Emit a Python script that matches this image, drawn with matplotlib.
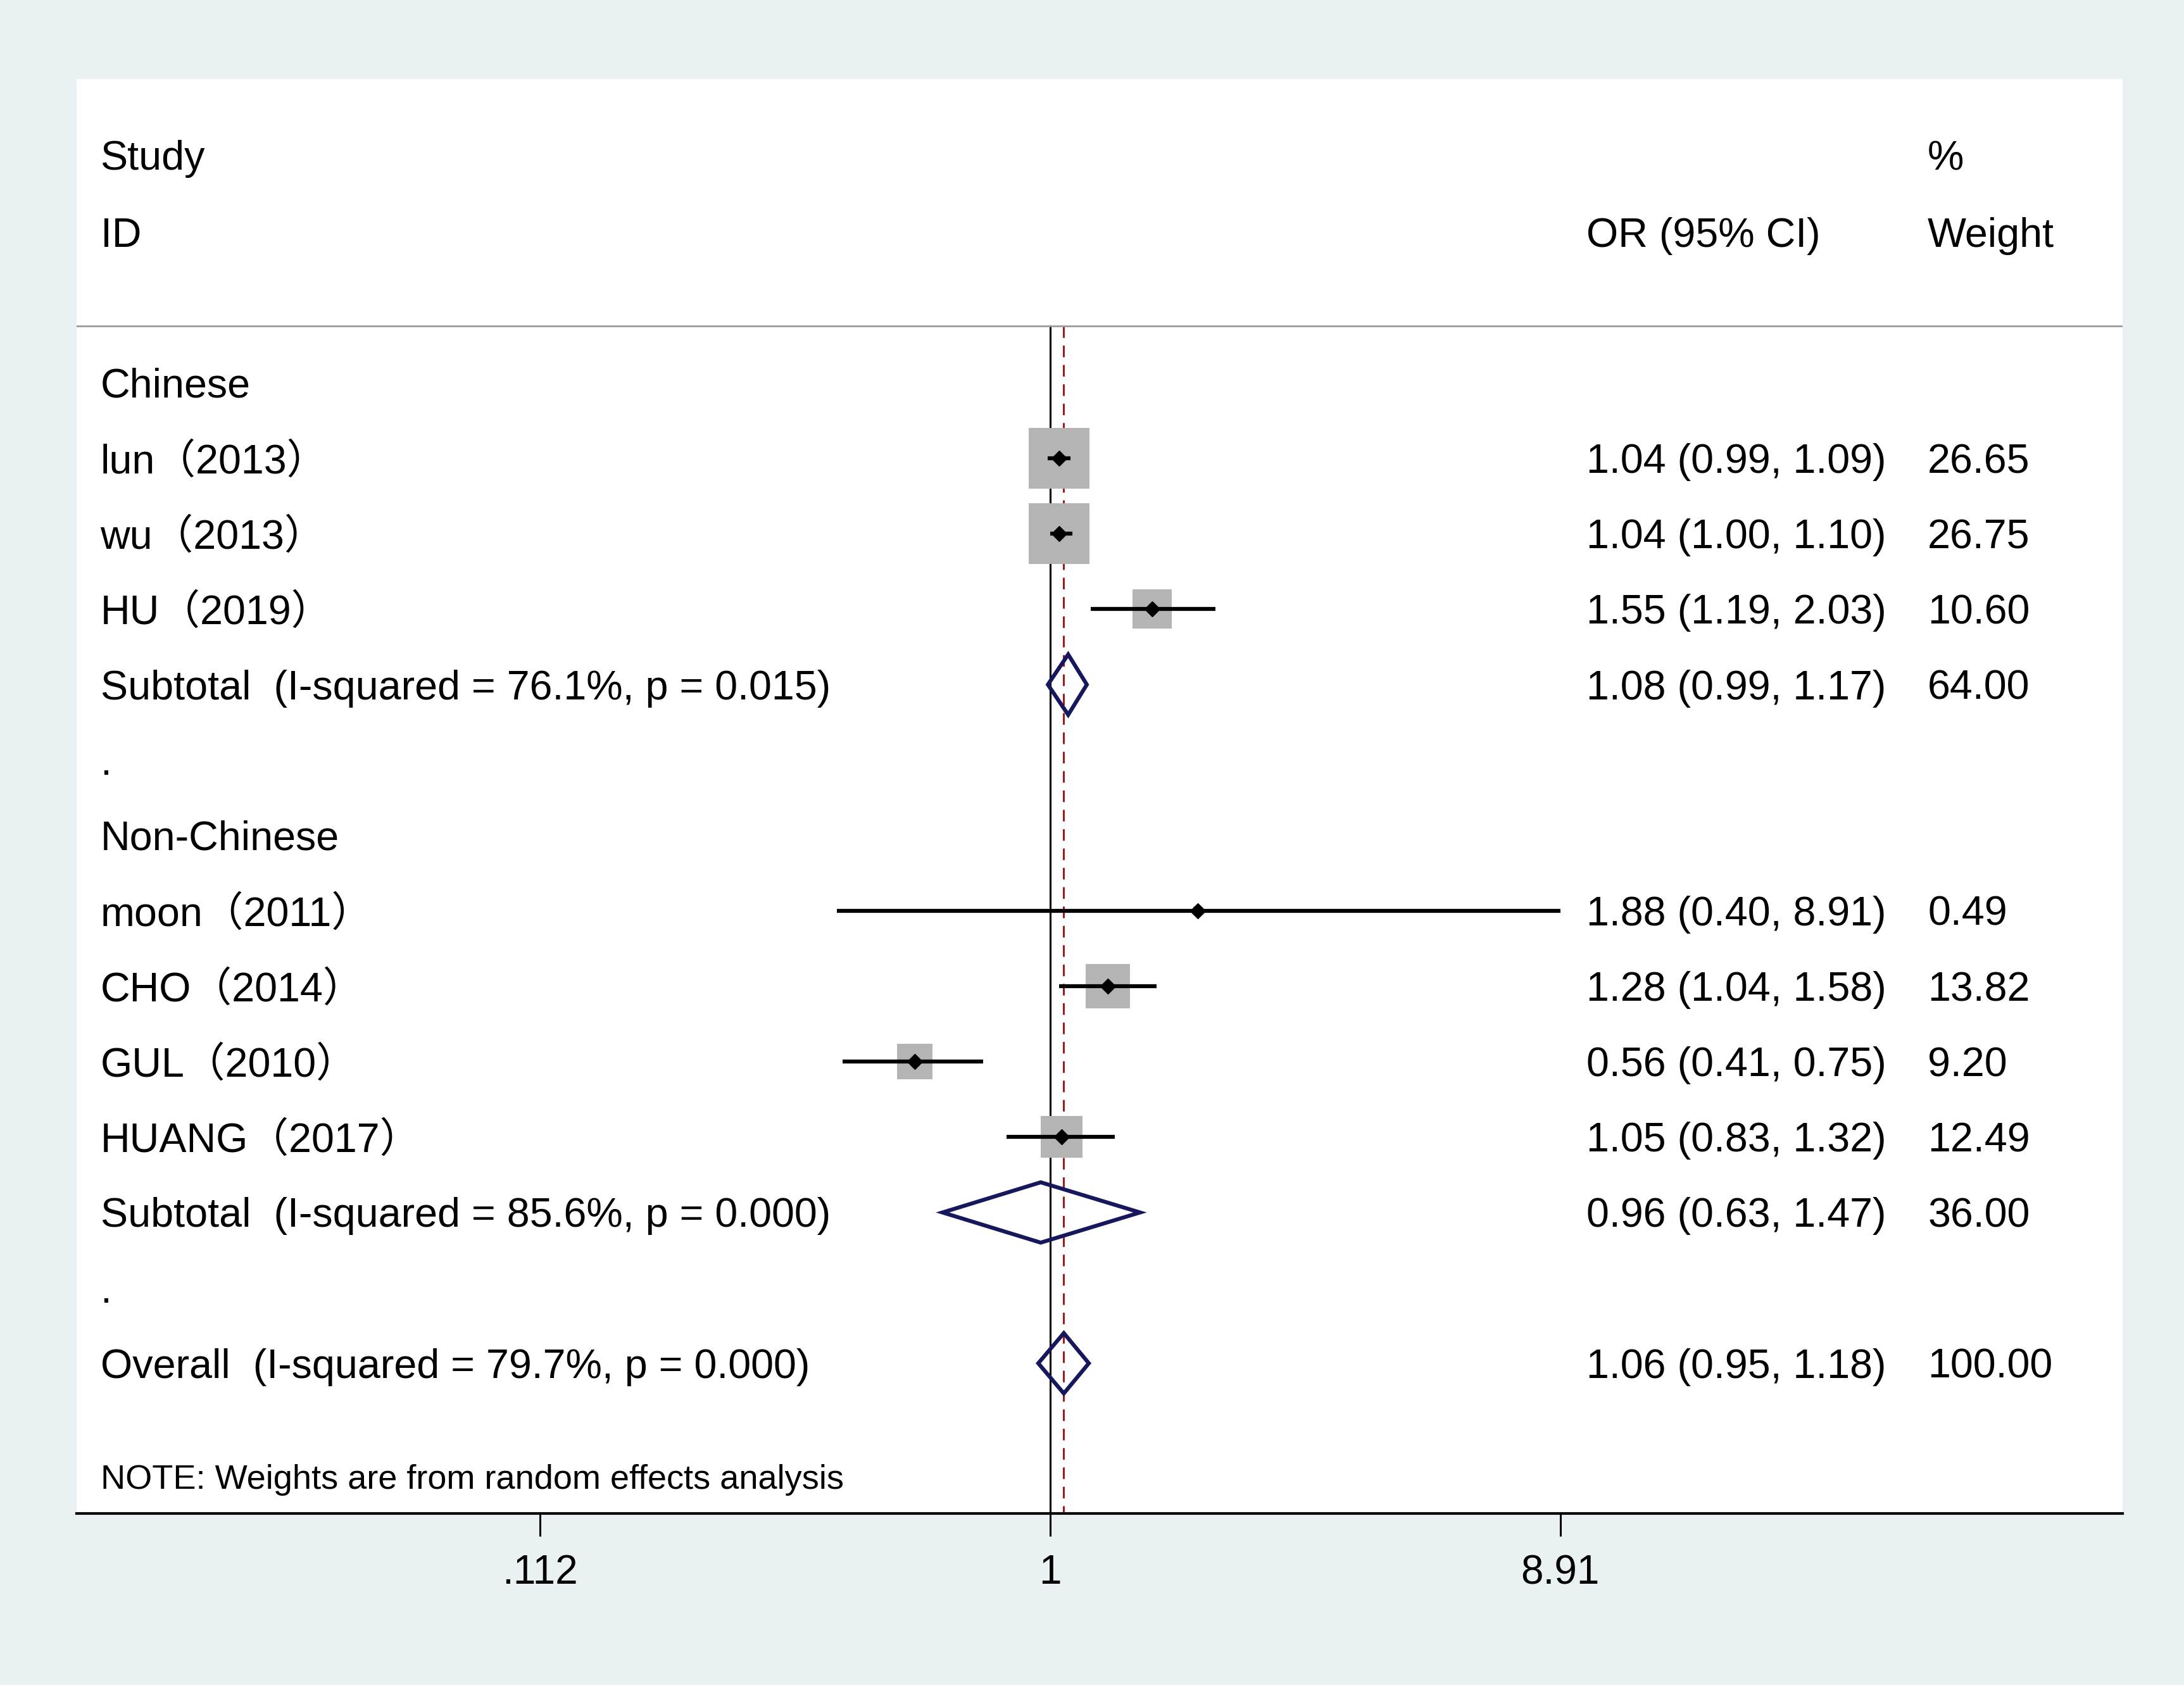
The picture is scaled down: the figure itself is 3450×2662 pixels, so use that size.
import numpy as np
import matplotlib.pyplot as plt
import matplotlib.transforms as mtransforms
from matplotlib.patches import Polygon

# font: Arial-like, with CJK fallback for the full-width brackets
plt.rcParams['font.family'] = ['Liberation Sans', 'Noto Sans CJK SC']

row_labels = ["Chinese", "lun（2013）", "wu（2013）", "HU（2019）",
              "Subtotal  (I-squared = 76.1%, p = 0.015)", ".",
              "Non-Chinese", "moon（2011）", "CHO（2014）", "GUL（2010）", "HUANG（2017）",
              "Subtotal  (I-squared = 85.6%, p = 0.000)", ".",
              "Overall  (I-squared = 79.7%, p = 0.000)"]
row_kind = ['group', 'study', 'study', 'study', 'sub', 'gap',
            'group', 'study', 'study', 'study', 'study', 'sub', 'gap', 'sub']
or_est = [np.nan, 1.04, 1.04, 1.55, 1.08, np.nan, np.nan, 1.88, 1.28, 0.56, 1.05, 0.96, np.nan, 1.06]
ci_lo = [np.nan, 0.99, 1.00, 1.19, 0.99, np.nan, np.nan, 0.40, 1.04, 0.41, 0.83, 0.63, np.nan, 0.95]
ci_hi = [np.nan, 1.09, 1.10, 2.03, 1.17, np.nan, np.nan, 8.91, 1.58, 0.75, 1.32, 1.47, np.nan, 1.18]
weights = [np.nan, 26.65, 26.75, 10.60, 64.00, np.nan, np.nan, 0.49, 13.82, 9.20, 12.49, 36.00, np.nan, 100.00]

tick_vals = [0.112, 1, 8.91]
tick_labels = ['.112', '1', '8.91']
overall = 1.06

bg = '#e9f1f3'
navy = '#17175e'
fs = 46.5
dy = 0.05  # nudge text down a little to sit on the row centre

fig = plt.figure(figsize=(34.5, 26.62), dpi=100, facecolor=bg)
ax = fig.add_axes([0.03508, 0.10165, 0.93686, 0.85124])
ax.set_facecolor('white')
ax.set_xscale('log')
ax.set_xlim(np.exp(-4.176), np.exp(4.600))
ax.set_ylim(14.995, -4.026)

tr = mtransforms.blended_transform_factory(ax.transAxes, ax.transData)
x_lab, x_or, x_w = 0.0116, 0.738, 0.9047
head_y = -0.757

# header
ax.text(x_lab, -3.02 + dy, "Study", transform=tr, fontsize=fs, va='center')
ax.text(x_lab, -2.0 + dy, "ID", transform=tr, fontsize=fs, va='center')
ax.text(x_or, -2.0 + dy, "OR (95% CI)", transform=tr, fontsize=fs, va='center')
ax.text(x_w, -3.02 + dy, "%", transform=tr, fontsize=fs, va='center')
ax.text(x_w, -2.0 + dy, "Weight", transform=tr, fontsize=fs, va='center')
ax.axhline(head_y, color='#9a9a9a', lw=2)

# reference lines
ax.plot([1, 1], [head_y, 15], color='black', lw=2.2, zorder=1)
ax.plot([overall, overall], [head_y, 15], color='#a01c1c', lw=2.2,
        dashes=(6, 4), zorder=1)

for i, kind in enumerate(row_kind):
    ax.text(x_lab, i + dy, row_labels[i], transform=tr, fontsize=fs, va='center')
    if kind in ('study', 'sub'):
        ax.text(x_or, i + dy, "%.2f (%.2f, %.2f)" % (or_est[i], ci_lo[i], ci_hi[i]),
                transform=tr, fontsize=fs, va='center')
        ax.text(x_w, i + dy, "%.2f" % weights[i], transform=tr, fontsize=fs, va='center')
    if kind == 'study':
        ax.scatter([or_est[i]], [i], marker='s', s=182.3 * weights[i],
                   color='#b4b4b4', linewidths=0, zorder=2)
        ax.plot([ci_lo[i], ci_hi[i]], [i, i], color='black', lw=4.5,
                solid_capstyle='butt', zorder=3)
        ax.plot([or_est[i]], [i], marker='D', ms=12, color='black', zorder=4)
    elif kind == 'sub':
        h = 0.4
        dia = Polygon([(ci_lo[i], i), (or_est[i], i - h), (ci_hi[i], i), (or_est[i], i + h)],
                      closed=True, facecolor='none', edgecolor=navy, lw=4.5, zorder=3)
        ax.add_patch(dia)

ax.text(x_lab, 14.5 + dy, "NOTE: Weights are from random effects analysis",
        transform=tr, fontsize=39, va='center')

# axis
for s in ('top', 'left', 'right'):
    ax.spines[s].set_visible(False)
ax.spines['bottom'].set_linewidth(3)
ax.set_xticks(tick_vals)
ax.set_xticklabels(tick_labels)
ax.xaxis.set_minor_locator(plt.NullLocator())
ax.tick_params(axis='x', length=26, width=2.2, pad=20, labelsize=46)
ax.set_yticks([])

fig.savefig('out.png', dpi=100, facecolor=bg)
